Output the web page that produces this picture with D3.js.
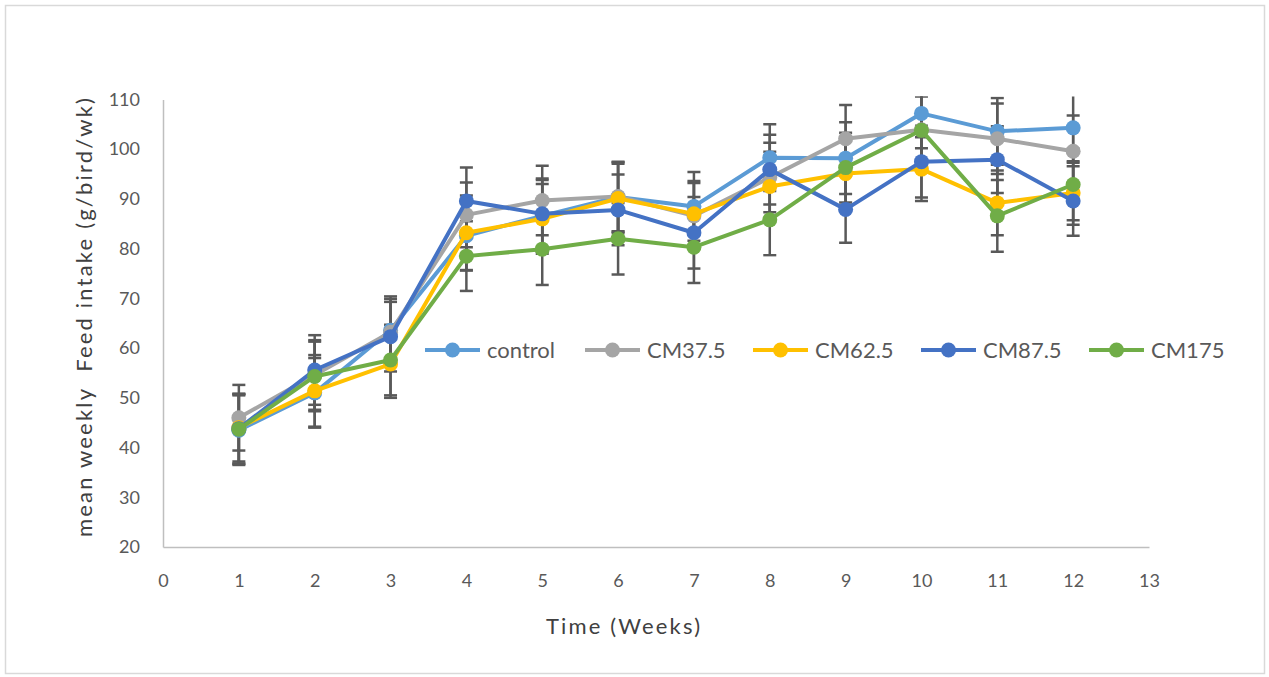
<!DOCTYPE html>
<html>
<head>
<meta charset="utf-8">
<script src="https://cdn.jsdelivr.net/npm/d3@7"></script>
<style>
  body { margin: 0; background: #fff; }
  text { font-family: Lato, 'Open Sans', sans-serif; fill: #595959; }
</style>
</head>
<body>
<div id="chart"></div>
<script>
// weeks on the x axis
const weeks = [1, 2, 3, 4, 5, 6, 7, 8, 9, 10, 11, 12];
const xTicks = [0, 1, 2, 3, 4, 5, 6, 7, 8, 9, 10, 11, 12, 13];
const yTicks = [20, 30, 40, 50, 60, 70, 80, 90, 100, 110];

// mean weekly feed intake per treatment
const control = [43.5, 51.0, 63.6, 82.6, 86.6, 90.4, 88.5, 98.3, 98.2, 107.2, 103.6, 104.3];
const cm375 = [46.0, 54.6, 63.2, 86.8, 89.7, 90.5, 86.6, 94.3, 102.1, 103.9, 102.1, 99.6];
const cm625 = [44.0, 51.4, 56.8, 83.2, 86.0, 90.1, 87.0, 92.5, 95.1, 96.0, 89.2, 91.2];
const cm875 = [43.8, 55.6, 62.3, 89.6, 87.0, 87.8, 83.2, 95.9, 87.9, 97.5, 97.9, 89.6];
const cm175 = [43.7, 54.3, 57.6, 78.5, 79.9, 82.0, 80.3, 85.8, 96.3, 103.8, 86.6, 92.9];

// error bar half-widths
const controlErr = [7.0, 7.0, 6.8, 7.0, 7.2, 7.0, 6.9, 6.7, 7.2, 7.0, 6.7, 7.0];
const cm375Err = [6.6, 7.0, 6.7, 6.5, 7.0, 7.0, 6.6, 7.0, 6.8, 6.7, 7.1, 7.2];
const cm625Err = [6.8, 7.2, 6.8, 7.5, 7.0, 7.0, 6.6, 7.0, 7.0, 6.4, 6.5, 6.4];
const cm875Err = [7.0, 7.0, 7.0, 6.7, 7.1, 7.1, 7.2, 7.0, 6.7, 7.2, 6.7, 7.0];
const cm175Err = [7.0, 7.0, 7.1, 7.0, 7.2, 7.2, 7.2, 7.1, 7.0, 7.0, 7.2, 7.2];

const seriesNames = ['control', 'CM37.5', 'CM62.5', 'CM87.5', 'CM175'];
const seriesValues = [control, cm375, cm625, cm875, cm175];
const seriesErrors = [controlErr, cm375Err, cm625Err, cm875Err, cm175Err];
const colors = ['#5B9BD5', '#A5A5A5', '#FFC000', '#4472C4', '#70AD47'];

const width = 1269, height = 677;
const plotLeft = 163, plotRight = 1149, plotTop = 99.5, plotBottom = 547;

const svg = d3.select('#chart')
  .append('svg')
    .attr('width', width)
    .attr('height', height);

// chart border
svg.append('rect')
  .attr('x', 5.5).attr('y', 5.5)
  .attr('width', 1259).attr('height', 668)
  .attr('fill', '#fff')
  .attr('stroke', '#D9D9D9')
  .attr('stroke-width', 1.5);

const x = d3.scaleLinear().domain([0, 13]).range([plotLeft, plotRight]);
const y = d3.scaleLinear().domain([20, 110]).range([plotBottom, plotTop]);

svg.append('clipPath').attr('id', 'plot')
  .append('rect')
    .attr('x', plotLeft - 10).attr('y', plotTop - 3)
    .attr('width', plotRight - plotLeft + 20).attr('height', plotBottom - plotTop + 3);

// X axis
const xAxis = svg.append('g')
  .attr('transform', 'translate(0,' + plotBottom + ')')
  .call(d3.axisBottom(x).tickValues(xTicks).tickSize(0).tickPadding(27));
xAxis.select('.domain').attr('stroke', '#BFBFBF').attr('stroke-width', 1.5);
xAxis.selectAll('text').attr('font-size', 18).attr('fill', '#404040').attr('font-family', 'Lato');

// Y axis
const yAxis = svg.append('g')
  .attr('transform', 'translate(' + plotLeft + ',0)')
  .call(d3.axisLeft(y).tickValues(yTicks).tickSize(0).tickPadding(23));
yAxis.select('.domain').attr('stroke', '#BFBFBF').attr('stroke-width', 1.5);
yAxis.selectAll('text').attr('font-size', 18).attr('fill', '#595959').attr('font-family', 'Lato');

// axis titles
svg.append('text')
  .attr('x', 546).attr('y', 634)
  .attr('font-size', 22)
  .attr('textLength', 154)
  .attr('lengthAdjust', 'spacing')
  .style('fill', '#404040')
  .text('Time (Weeks)');

svg.append('text')
  .attr('transform', 'translate(92,537) rotate(-90)')
  .attr('font-size', 22)
  .attr('textLength', 439)
  .attr('lengthAdjust', 'spacing')
  .style('fill', '#404040')
  .attr('xml:space', 'preserve')
  .text('mean weekly  Feed intake (g/bird/wk)');

const plot = svg.append('g').attr('clip-path', 'url(#plot)');

// error bars
seriesValues.forEach((vals, s) => {
  const g = plot.append('g').attr('stroke', '#595959').attr('stroke-width', 2.5);
  weeks.forEach((w, i) => {
    const hi = vals[i] + seriesErrors[s][i];
    const lo = vals[i] - seriesErrors[s][i];
    g.append('line')
      .attr('x1', x(w)).attr('x2', x(w))
      .attr('y1', y(hi)).attr('y2', y(lo));
    [hi, lo].forEach(v => {
      g.append('line')
        .attr('x1', x(w) - 6.5).attr('x2', x(w) + 6.5)
        .attr('y1', y(v)).attr('y2', y(v));
    });
  });
});

// lines and markers
const line = d3.line()
  .x((d, i) => x(weeks[i]))
  .y(d => y(d));

seriesValues.forEach((vals, s) => {
  plot.append('path')
    .datum(vals)
    .attr('fill', 'none')
    .attr('stroke', colors[s])
    .attr('stroke-width', 4)
    .attr('stroke-linejoin', 'round')
    .attr('d', line);
  plot.selectAll('.m' + s)
    .data(vals)
    .enter().append('circle')
      .attr('cx', (d, i) => x(weeks[i]))
      .attr('cy', d => y(d))
      .attr('r', 7.5)
      .attr('fill', colors[s]);
});

// legend
const legendX = [425, 585, 753, 921, 1089];
const legend = svg.append('g');
seriesNames.forEach((name, s) => {
  const g = legend.append('g').attr('transform', 'translate(' + legendX[s] + ',350)');
  g.append('line')
    .attr('x1', 0).attr('x2', 55)
    .attr('stroke', colors[s]).attr('stroke-width', 4);
  g.append('circle').attr('cx', 27.5).attr('r', 7.5).attr('fill', colors[s]);
  g.append('text')
    .attr('x', 62).attr('dy', '0.35em')
    .attr('font-size', 22)
    .text(name);
});
</script>
</body>
</html>
